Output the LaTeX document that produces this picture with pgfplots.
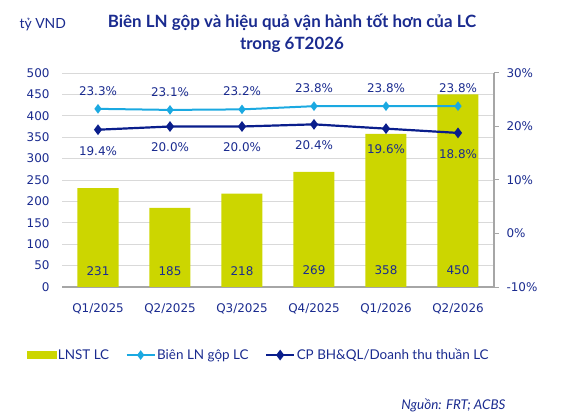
\documentclass[border=0pt]{standalone}
\usepackage{fontspec}
\setmainfont{Lato}
\newfontfamily\dv{DejaVu Sans}
\usepackage{pgfplots}
\pgfplotsset{compat=1.18}
\definecolor{barc}{HTML}{CCD600}
\definecolor{lblue}{HTML}{1BA9E1}
\definecolor{navy}{HTML}{0A1E8C}
\definecolor{txt}{HTML}{1A2B8F}
\definecolor{gridc}{HTML}{D9D9D9}
\definecolor{axc}{HTML}{A6A6A6}
\pgfplotsset{/pgf/number format/assume math mode=true}
\begin{document}
\begin{tikzpicture}
\useasboundingbox (0bp,0bp) rectangle (571bp,418bp);
\begin{axis}[at={(62bp,131bp)}, anchor=south west, scale only axis,
  width=432bp, height=214bp,
  xmin=-0.5, xmax=5.5, ymin=0, ymax=500, ytick={0,50,...,500},
  xtick={0,...,5},
  xticklabels={Q1/2025,Q2/2025,Q3/2025,Q4/2025,Q1/2026,Q2/2026},
  yticklabel={\pgfmathprintnumber{\tick}},
  separate axis lines,
  axis x line*=bottom, axis y line*=left,
  x axis line style={draw=axc, line width=1.2bp, -},
  y axis line style={draw=none},
  xtick style={draw=none}, ytick style={draw=none},
  ymajorgrids, grid style={draw=gridc, line width=0.8bp},
  yticklabel style={font=\dv\fontsize{12}{12}\selectfont, text=txt, xshift=-9bp},
  xticklabel style={font=\dv\fontsize{12}{12}\selectfont, text=txt, yshift=-13bp},
]
\addplot[ybar, bar width=41bp, fill=barc, draw=none,
  visualization depends on={rawy \as \rawy},
  nodes near coords={\pgfmathprintnumber{\pgfplotspointmeta}},
  every node near coord/.append style={font=\dv\fontsize{12}{12}\selectfont, text=txt, anchor=center, yshift={16-\rawy*0.428}}]
  coordinates {(0,231) (1,185) (2,218) (3,269) (4,358) (5,450)};
\end{axis}
\begin{axis}[at={(62bp,131bp)}, anchor=south west, scale only axis,
  width=432bp, height=214bp,
  xmin=-0.5, xmax=5.5, ymin=-10, ymax=30, ytick={-10,0,10,20,30},
  axis x line=none, axis y line*=right,
  y axis line style={draw=axc, line width=1.2bp, -},
  ytick style={draw=axc, line width=1bp}, tick align=outside, major tick length=5bp,
  yticklabel={\pgfmathprintnumber{\tick}\%},
  yticklabel style={font=\dv\fontsize{12}{12}\selectfont, text=txt, xshift=4bp},
  legend columns=3,
  legend image code/.code={\draw[mark repeat=2,mark phase=2,#1] plot coordinates {(0bp,0bp) (14bp,0bp) (28bp,0bp)};},
  legend style={at={(axis description cs:0.455,-0.318)}, anchor=center, draw=none, fill=none,
    font=\fontsize{13.5}{14}\selectfont, text=txt, nodes={inner sep=1.5bp},
    /tikz/every even column/.append style={column sep=15bp}},
]
\addlegendimage{legend image code/.code={\fill[barc] (0bp,-3.5bp) rectangle (29bp,3.5bp);}}
\addlegendentry{LNST LC}
\addplot[lblue, line width=2bp, mark=diamond*, mark size=3.2bp,
  nodes near coords={\pgfmathprintnumber[fixed, fixed zerofill, precision=1]{\pgfplotspointmeta}\%},
  every node near coord/.append style={font=\dv\fontsize{12}{12}\selectfont, text=txt, anchor=center, yshift=18bp}]
  coordinates {(0,23.3) (1,23.1) (2,23.2) (3,23.8) (4,23.8) (5,23.8)};
\addlegendentry{Biên LN gộp LC}
\addplot[navy, line width=2.2bp, mark=diamond*, mark size=3.6bp,
  nodes near coords={\pgfmathprintnumber[fixed, fixed zerofill, precision=1]{\pgfplotspointmeta}\%},
  every node near coord/.append style={font=\dv\fontsize{12}{12}\selectfont, text=txt, anchor=center, yshift=-21bp}]
  coordinates {(0,19.4) (1,20.0) (2,20.0) (3,20.4) (4,19.6) (5,18.8)};
\addlegendentry{CP BH\&QL/Doanh thu thuần LC}
\end{axis}
\node[font=\bfseries\fontsize{17}{22}\selectfont, text=txt, align=center] at (292bp,385bp) {Biên LN gộp và hiệu quả vận hành tốt hơn của LC\\trong 6T2026};
\node[font=\fontsize{14}{15}\selectfont, text=txt, anchor=west] at (16bp,393bp) {tỷ VND};
\node[font=\itshape\fontsize{13.5}{14}\selectfont, text=txt, anchor=east] at (509bp,13bp) {Nguồn: FRT; ACBS};
\end{tikzpicture}
\end{document}
